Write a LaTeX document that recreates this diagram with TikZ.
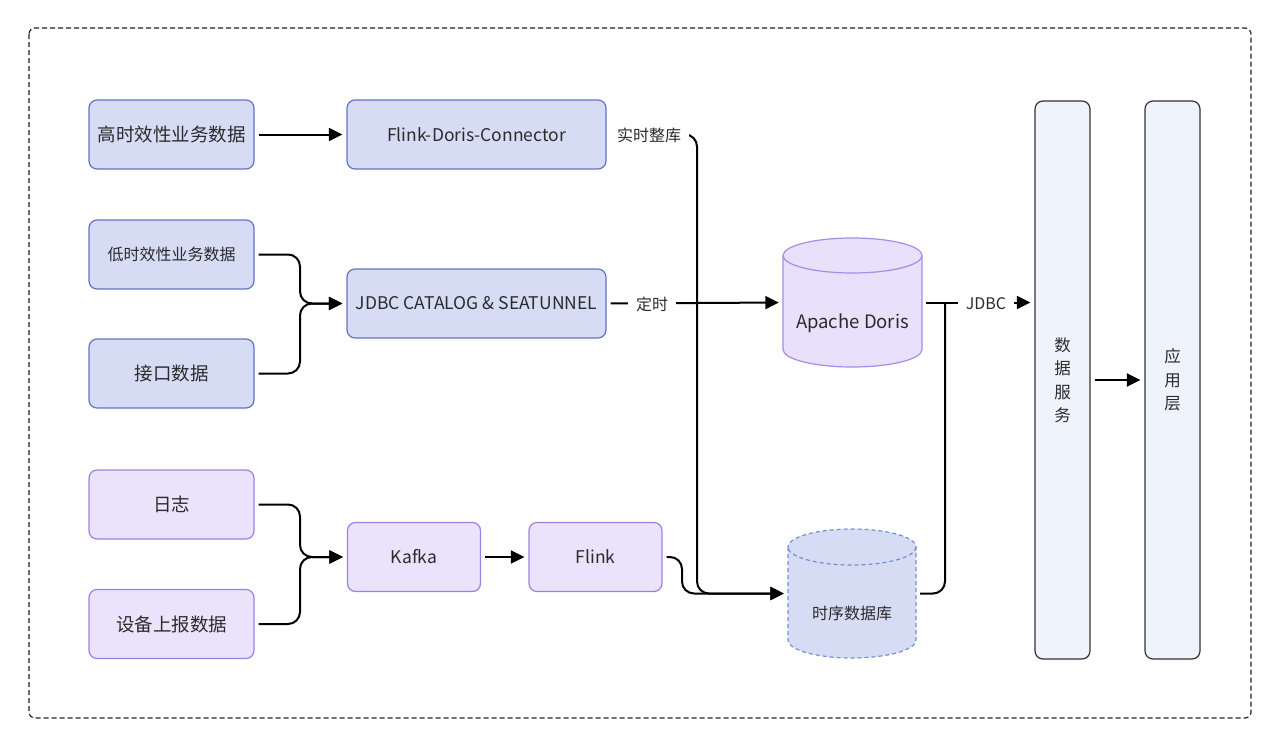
\documentclass[tikz,border=0pt]{standalone}
\usepackage{fontspec}
\setmainfont{Noto Sans CJK SC}
\usetikzlibrary{arrows.meta}
\definecolor{txt}{HTML}{2B2B2B}
\definecolor{frame}{HTML}{222222}
\definecolor{bfill}{HTML}{D6DCF4}
\definecolor{bdraw}{HTML}{6373C4}
\definecolor{pfill}{HTML}{EBE3FC}
\definecolor{pdraw}{HTML}{9C82E0}
\definecolor{dfill}{HTML}{E9E0FB}
\definecolor{ddraw}{HTML}{A78CE8}
\definecolor{tfill}{HTML}{D6DCF4}
\definecolor{tdraw}{HTML}{7190D8}
\definecolor{sfill}{HTML}{EEF3FC}
\definecolor{sdraw}{HTML}{333333}
\begin{document}
\begin{tikzpicture}[x=1pt,y=-1pt,
  fbig/.style={font=\fontsize{18.5}{22}\selectfont, text=txt},
  flat/.style={font=\fontsize{17.5}{22}\selectfont, text=txt},
  fsmall/.style={font=\fontsize{16}{20}\selectfont, text=txt},
  bbox/.style={draw=bdraw, fill=bfill, line width=1.2pt, rounded corners=8pt,
    minimum width=165pt, minimum height=69pt, inner sep=0pt, fbig},
  pbox/.style={bbox, draw=pdraw, fill=pfill},
  tall/.style={draw=sdraw, fill=sfill, line width=1.2pt, rounded corners=8pt,
    minimum width=55pt, minimum height=558pt, inner sep=0pt, align=center,
    font=\fontsize{16.5}{23.5}\selectfont, text=txt},
  ghost/.style={draw=none, inner sep=0pt},
  line/.style={line width=2pt, draw=black, rounded corners=12pt, shorten <=4pt},
  conn/.style={line, shorten >=4pt, -{Triangle[length=13.5pt,width=13pt]}},
  lbl/.style={fill=white, inner xsep=8pt, inner ysep=3pt, fsmall},
]
\useasboundingbox (0,0) rectangle (1280,747);
\draw[draw=frame, line width=1.2pt, dash pattern=on 5pt off 3pt, rounded corners=6pt]
  (29,28) rectangle (1251,718);

% left boxes
\node[bbox] (hi) at (171.5,134.5) {高时效性业务数据};
\node[bbox, fsmall] (lo) at (171.5,254.5) {低时效性业务数据};
\node[bbox] (api) at (171.5,373.5) {接口数据};
\node[pbox] (log) at (171.5,504.5) {日志};
\node[pbox] (dev) at (171.5,624) {设备上报数据};

% middle boxes
\node[bbox, flat, minimum width=259pt] (fdc) at (476.5,134.5) {Flink-Doris-Connector};
\node[bbox, flat, minimum width=259pt] (jdbc) at (476.5,303.5) {JDBC CATALOG \& SEATUNNEL};
\node[pbox, flat, minimum width=133pt] (kafka) at (414,557) {Kafka};
\node[pbox, flat, minimum width=133pt] (flink) at (595.5,557) {Flink};

% Apache Doris cylinder
\path[draw=ddraw, fill=dfill, line width=1.2pt]
  (783,255.5) -- (783,349.5)
  arc[start angle=180, end angle=360, x radius=69.5pt, y radius=17.5pt]
  -- (922,255.5)
  arc[start angle=0, end angle=180, x radius=69.5pt, y radius=17.5pt] -- cycle;
\draw[draw=ddraw, line width=1.2pt]
  (922,255.5) arc[start angle=0, end angle=-180, x radius=69.5pt, y radius=17.5pt];
\node[ghost, minimum width=139pt, minimum height=129pt] (doris) at (852.5,302.5) {};
\node[fbig] (doristxt) at (852.5,323) {Apache Doris};

% time-series cylinder
\path[draw=tdraw, fill=tfill, line width=1.2pt, dash pattern=on 4pt off 3pt]
  (788,547) -- (788,640)
  arc[start angle=180, end angle=360, x radius=64pt, y radius=18pt]
  -- (916,547)
  arc[start angle=0, end angle=180, x radius=64pt, y radius=18pt] -- cycle;
\draw[draw=tdraw, line width=1.2pt, dash pattern=on 4pt off 3pt]
  (916,547) arc[start angle=0, end angle=-180, x radius=64pt, y radius=18pt];
\node[ghost, minimum width=128pt, minimum height=129pt] (tsdb) at (852,593.5) {};
\node[fsmall] (tsdbtxt) at (852,613) {时序数据库};

% right tall boxes
\node[tall] (svc) at (1062.5,380) {数\\据\\服\\务};
\node[tall] (app) at (1172.5,380) {应\\用\\层};

% helper coordinates
\coordinate (m1) at (300,303.5);
\coordinate (m2) at (300,557);
\coordinate (c2) at (697,593.5);
\coordinate (c3) at (682,593.5);
\coordinate (c4) at (945,303.5);

% connectors
\draw[conn] (hi) -- (fdc);
\draw[conn] (lo.east) -| (m1) -- (jdbc.west);
\draw[conn] (api.east) -| (m1) -- (jdbc.west);
\draw[conn] (log.east) -| (m2) -- (kafka.west);
\draw[conn] (dev.east) -| (m2) -- (kafka.west);
\draw[conn] (kafka) -- (flink);
\draw[conn] (fdc.east) -| (c2) -- (tsdb.west);
\draw[conn] (flink.east) -| (c3) -- (tsdb.west);
\draw[conn] (jdbc.east) -- (doris.west);
\draw[line] (tsdb.east) -| (c4);
\draw[conn] (doris.east) -- (doris.east -| svc.west);
\draw[conn] (svc) -- (app);

% labels
\node[lbl] (l1) at (649,135.5) {实时整库};
\node[lbl] (l2) at (652,304) {定时};
\node[lbl] (l3) at (986,304) {JDBC};
\end{tikzpicture}
\end{document}
